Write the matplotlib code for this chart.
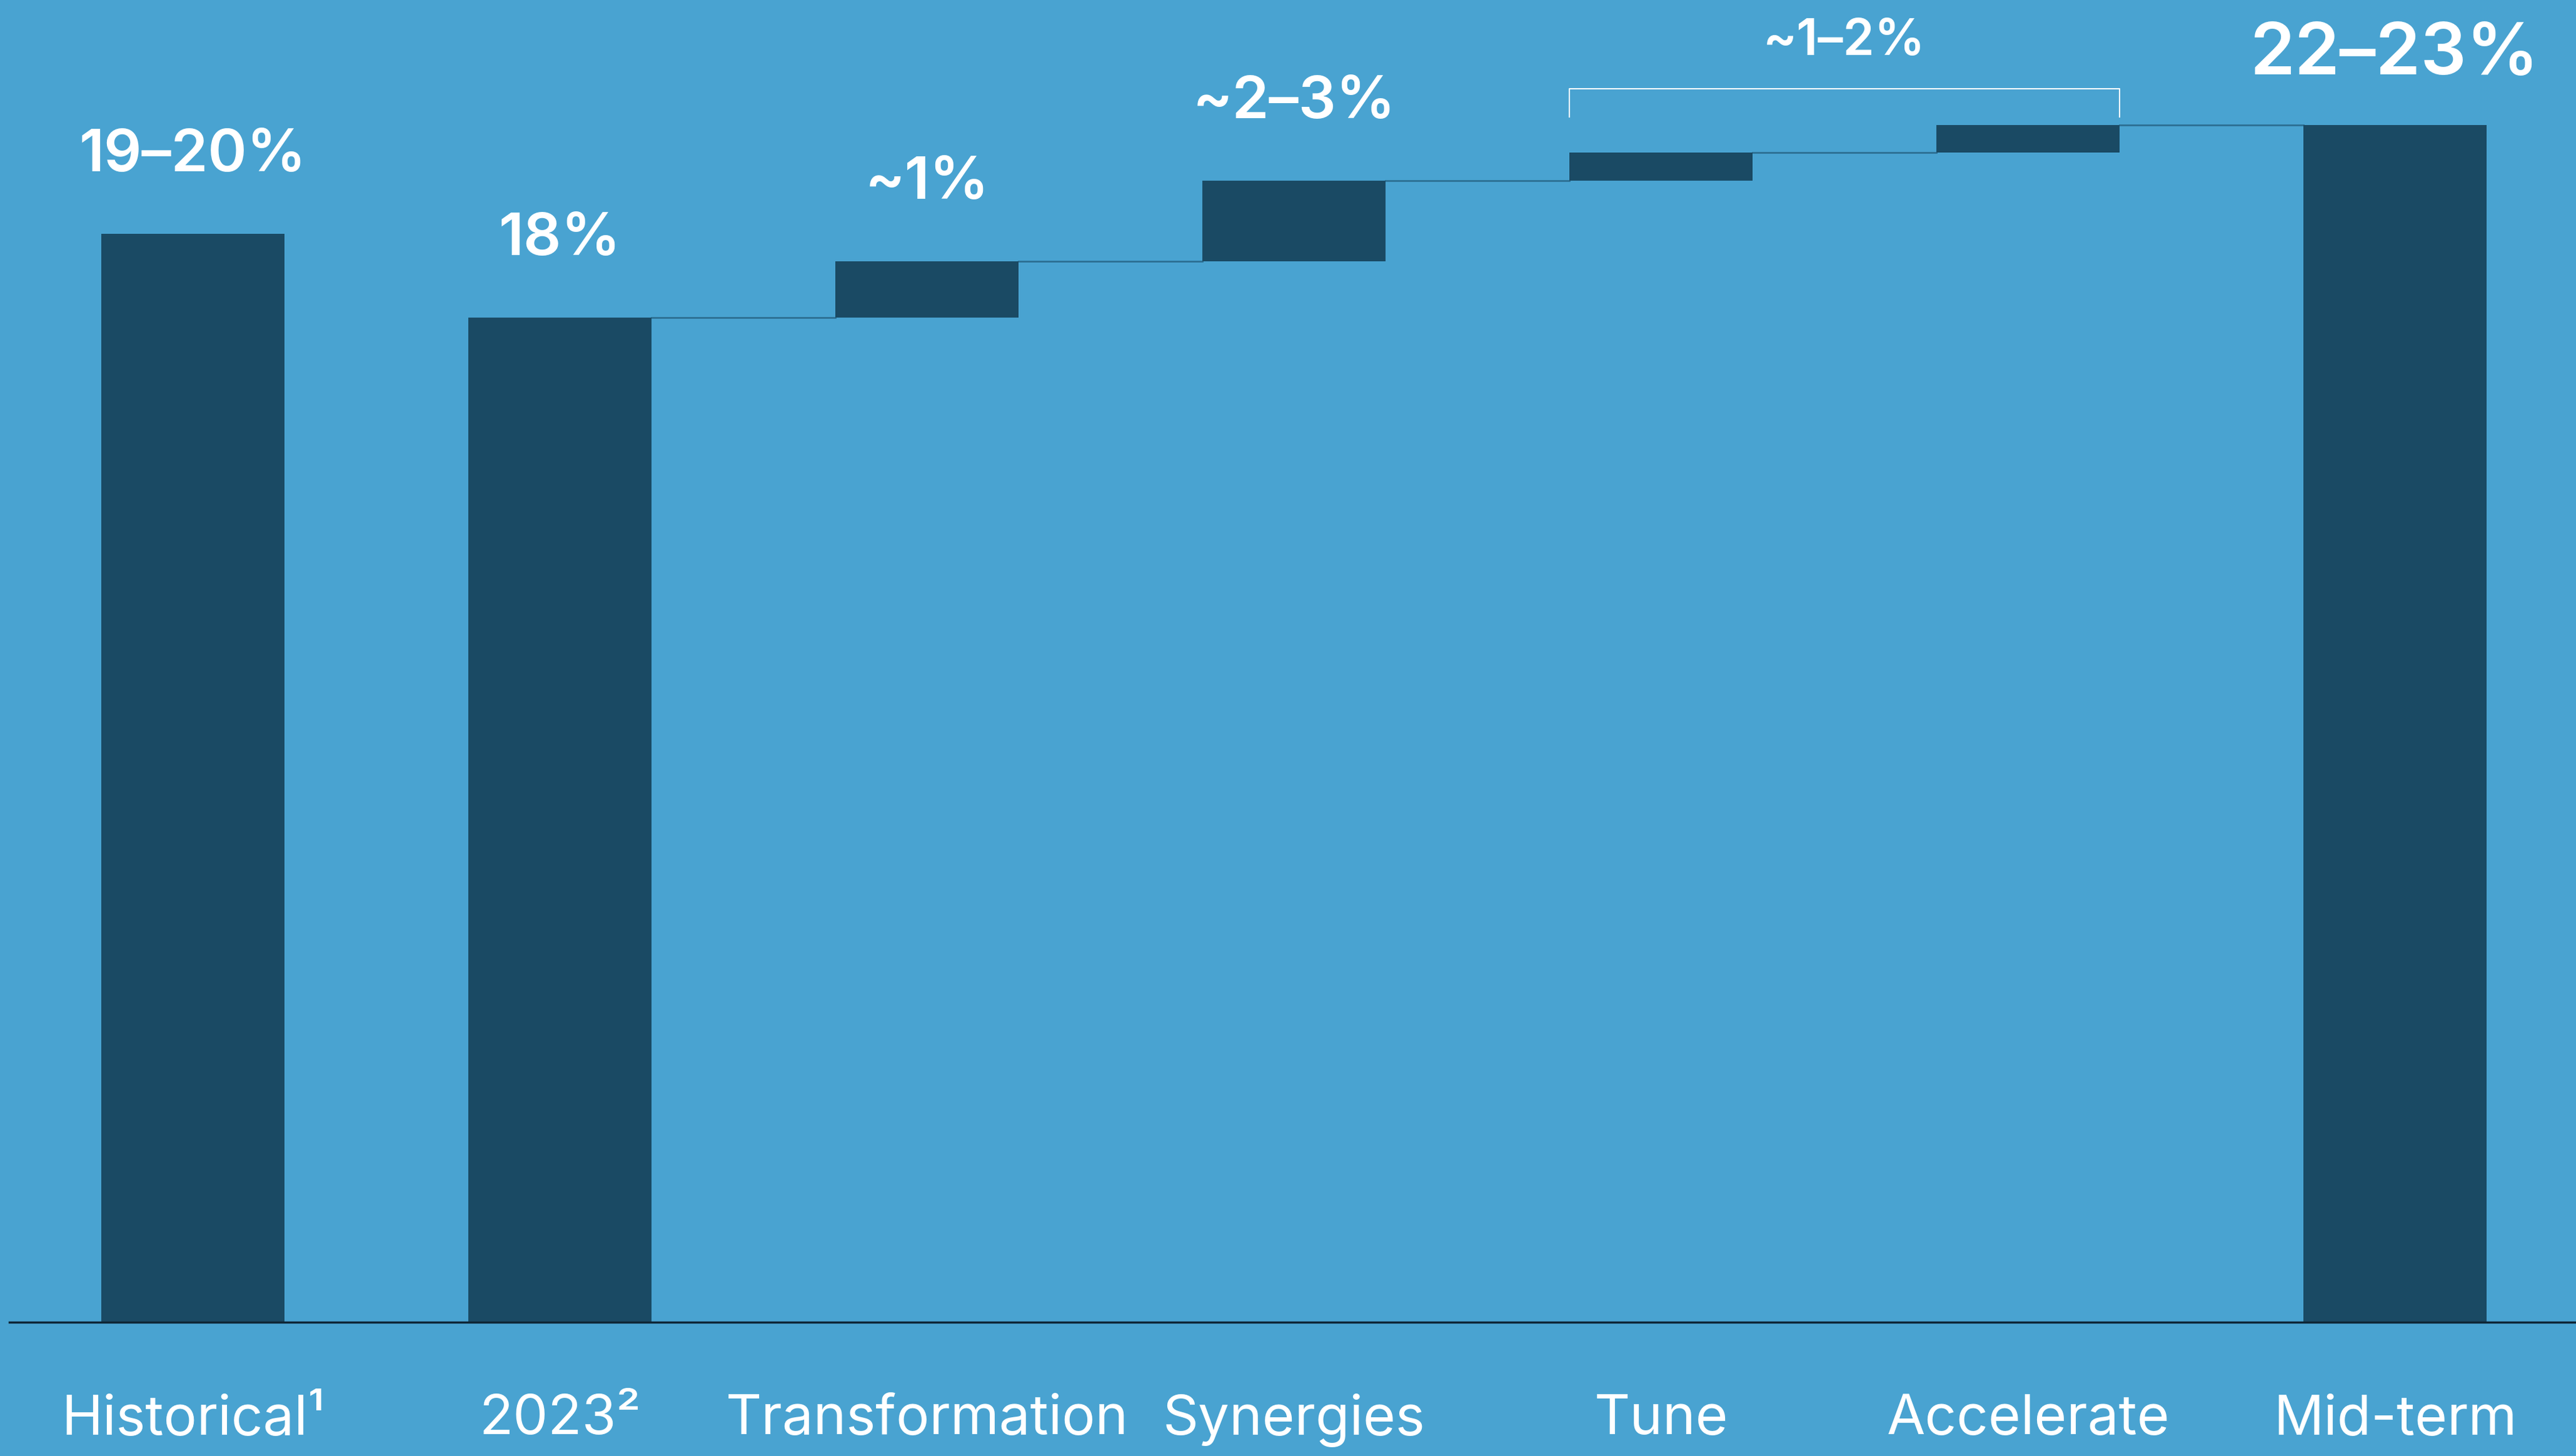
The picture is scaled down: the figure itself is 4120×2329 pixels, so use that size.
import matplotlib.pyplot as plt

# waterfall: margin bridge from 2023 to mid-term
categories = ["Historical¹", "2023²", "Transformation", "Synergies", "Tune", "Accelerate", "Mid-term"]
historical = 19.5
start = 18.0
steps = [1.0, 1.45, 0.5, 0.5]
value_labels = ["19–20%", "18%", "~1%", "~2–3%", "", "", "22–23%"]
bracket_label = "~1–2%"

bg = "#49a3d1"
bar_col = "#1a4a64"
link_col = "#2c6f93"

plt.rcParams['font.family'] = ['Inter', 'DejaVu Sans']

fig = plt.figure(figsize=(41.2, 23.29), dpi=100)
fig.patch.set_facecolor(bg)
ax = fig.add_axes([0, 0, 1, 1])
ax.set_facecolor(bg)
ax.set_xlim(-0.526, 6.493)
ax.set_ylim(-2.396, 23.684)
ax.axis("off")

w = 0.5
end = start + sum(steps)
bottoms = [0, 0]
heights = [historical, start]
level = start
for s in steps:
    bottoms.append(level)
    heights.append(s)
    level += s
bottoms.append(0)
heights.append(end)

x = list(range(len(categories)))
ax.bar(x, heights, bottom=bottoms, width=w, color=bar_col, zorder=3)

# connector lines between consecutive bars
for i in range(1, len(x) - 1):
    top = bottoms[i] + heights[i]
    ax.plot([x[i] + w / 2, x[i + 1] - w / 2], [top, top], color=link_col, lw=2, zorder=2)

# baseline
ax.plot([-0.5, 6.493], [0, 0], color="#0e2636", lw=2.5, zorder=4)

# value labels
for i, lab in enumerate(value_labels):
    if not lab:
        continue
    top = bottoms[i] + heights[i]
    if i == len(x) - 1:
        ax.text(x[i], top + 0.9, lab, ha="center", va="baseline", color="white",
                fontsize=83, fontweight="semibold")
    else:
        ax.text(x[i], top + 1.12, lab, ha="center", va="baseline", color="white",
                fontsize=68, fontweight="semibold")

# bracket over Tune + Accelerate
bx0, bx1 = x[4] - w / 2, x[5] + w / 2
btop = end + 0.64
ax.plot([bx0, bx0, bx1, bx1], [end + 0.14, btop, btop, end + 0.14], color="white", lw=1.5, zorder=3)
ax.text((x[4] + x[5]) / 2, end + 1.25, bracket_label, ha="center", va="baseline",
        color="white", fontsize=58, fontweight="semibold")

# category labels
for i, c in enumerate(categories):
    ax.text(x[i], -2.0, c, ha="center", va="baseline", color="white", fontsize=64, fontweight="normal")

fig.savefig("out.png", dpi=100, facecolor=bg)
